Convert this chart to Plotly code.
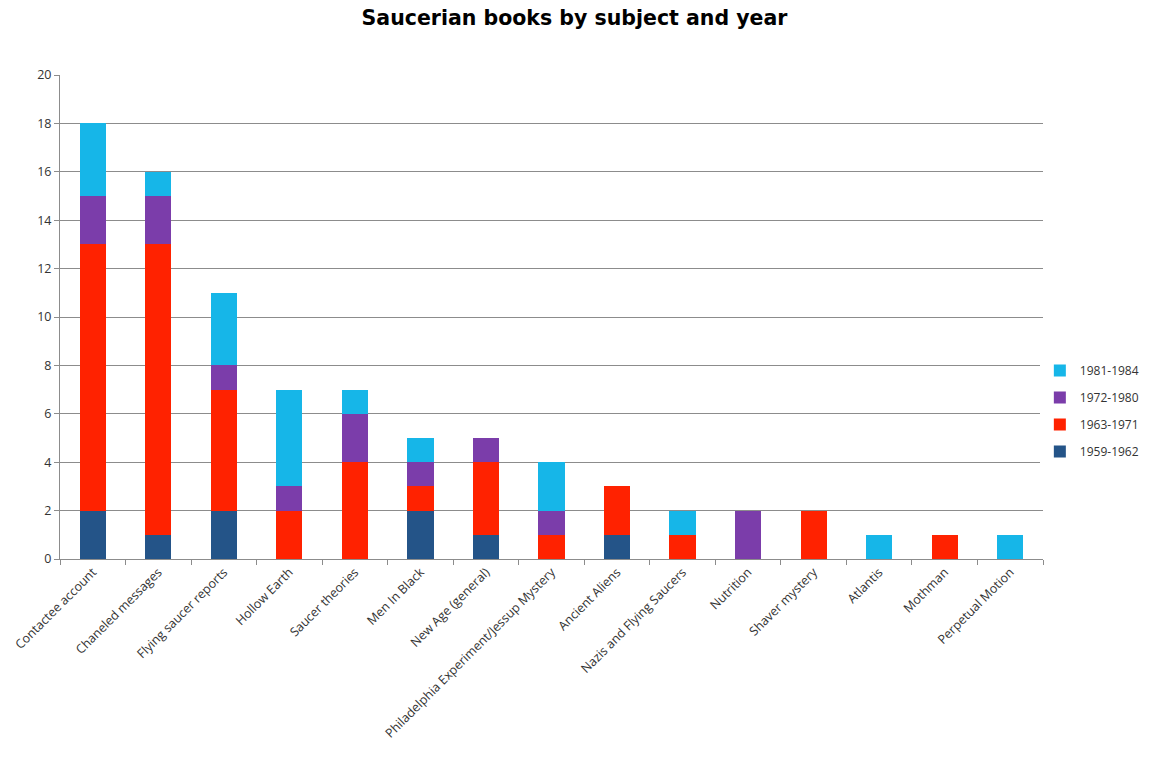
import plotly.graph_objects as go

subjects = [
    "Contactee account", "Chaneled messages", "Flying saucer reports", "Hollow Earth",
    "Saucer theories", "Men In Black", "New Age (general)",
    "Philadelphia Experiment/Jessup Mystery", "Ancient Aliens", "Nazis and Flying Saucers",
    "Nutrition", "Shaver mystery", "Atlantis", "Mothman", "Perpetual Motion",
]

books_1959_1962 = [2, 1, 2, 0, 0, 2, 1, 0, 1, 0, 0, 0, 0, 0, 0]
books_1963_1971 = [11, 12, 5, 2, 4, 1, 3, 1, 2, 1, 0, 2, 0, 1, 0]
books_1972_1980 = [2, 2, 1, 1, 2, 1, 1, 1, 0, 0, 2, 0, 0, 0, 0]
books_1981_1984 = [3, 1, 3, 4, 1, 1, 0, 2, 0, 1, 0, 0, 1, 0, 1]

series = [
    ("1959-1962", books_1959_1962, "#245488"),
    ("1963-1971", books_1963_1971, "#FF2200"),
    ("1972-1980", books_1972_1980, "#7B3DAA"),
    ("1981-1984", books_1981_1984, "#16B6E8"),
]

fig = go.Figure()
for rank, (name, vals, color) in enumerate(series):
    fig.add_trace(go.Bar(
        x=subjects, y=vals, name=name, legendgroup=name,
        legendrank=1000 - rank,
        marker=dict(color=color, line=dict(width=0)),
    ))

label_font = dict(family="Open Sans, Liberation Sans, sans-serif", size=12.5, color="#333333")

fig.update_layout(
    barmode="stack",
    bargap=0.6,
    width=1149, height=757,
    margin=dict(l=60, r=106, t=75, b=198, autoexpand=False),
    paper_bgcolor="white", plot_bgcolor="white",
    title=dict(
        text="<b>Saucerian books by subject and year</b>",
        x=0.5, xanchor="center", y=0.977, yanchor="middle",
        font=dict(family="DejaVu Sans, Liberation Sans, sans-serif", size=20.5, color="black"),
    ),
    legend=dict(
        xref="container", x=0.905, xanchor="left",
        y=0.306, yanchor="middle",
        traceorder="grouped", tracegroupgap=8,
        font=dict(family="Open Sans, Liberation Sans, sans-serif", size=12, color="#333333"),
        itemwidth=30,
    ),
    showlegend=True,
)

fig.update_xaxes(
    tickangle=-45, tickfont=label_font,
    showline=True, linecolor="#8c8c8c", linewidth=1,
    ticks="outside", tickson="boundaries", ticklen=5, tickcolor="#8c8c8c",
    showgrid=False,
)
fig.update_yaxes(
    range=[0, 20], dtick=2, tickfont=label_font,
    showline=True, linecolor="#8c8c8c", linewidth=1,
    ticks="outside", ticklen=5, tickcolor="#8c8c8c",
    showgrid=True, gridcolor="#8c8c8c", gridwidth=1,
    zeroline=False,
)

fig.write_html("out.html")
